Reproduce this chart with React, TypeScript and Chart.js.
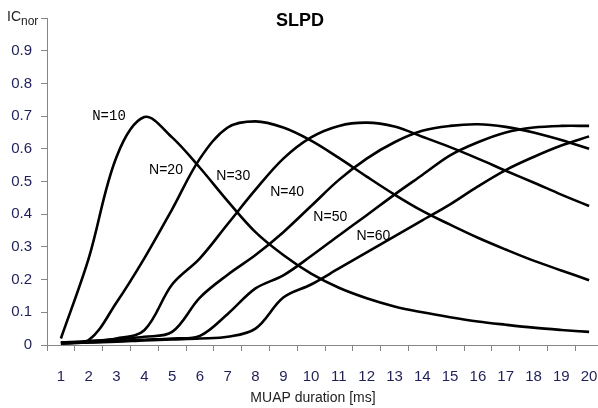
import React, { useEffect, useRef } from 'react';
import { Chart, registerables } from 'chart.js';

Chart.register(...registerables);

const categories = ['1', '2', '3', '4', '5', '6', '7', '8', '9', '10', '11', '12', '13', '14', '15', '16', '17', '18', '19', '20'];

const n10 = [0.02, 0.265, 0.575, 0.697, 0.635, 0.542, 0.44, 0.345, 0.275, 0.218, 0.175, 0.143, 0.118, 0.1, 0.085, 0.072, 0.062, 0.053, 0.046, 0.04];
const n20 = [0.008, 0.015, 0.13, 0.265, 0.415, 0.57, 0.665, 0.684, 0.665, 0.625, 0.572, 0.515, 0.46, 0.41, 0.368, 0.328, 0.292, 0.258, 0.228, 0.198];
const n30 = [0.008, 0.012, 0.02, 0.045, 0.185, 0.265, 0.37, 0.475, 0.57, 0.635, 0.67, 0.68, 0.668, 0.637, 0.605, 0.57, 0.533, 0.497, 0.46, 0.425];
const n40 = [0.005, 0.01, 0.018, 0.025, 0.04, 0.145, 0.215, 0.275, 0.345, 0.425, 0.505, 0.57, 0.62, 0.655, 0.67, 0.675, 0.667, 0.65, 0.627, 0.6];
const n50 = [0.005, 0.008, 0.012, 0.016, 0.02, 0.028, 0.095, 0.173, 0.213, 0.272, 0.335, 0.397, 0.46, 0.52, 0.58, 0.62, 0.65, 0.665, 0.67, 0.67];
const n60 = [0.005, 0.008, 0.01, 0.014, 0.017, 0.02, 0.025, 0.05, 0.145, 0.185, 0.234, 0.283, 0.332, 0.381, 0.43, 0.485, 0.535, 0.575, 0.61, 0.638];

const seriesNames = ['N=10', 'N=20', 'N=30', 'N=40', 'N=50', 'N=60'];
const seriesValues = [n10, n20, n30, n40, n50, n60];
// label anchor (category index, value) for the in-chart series labels
const labelIndex = [1.73, 3.78, 6.2, 8.14, 9.69, 11.24];
const labelValue = [0.699, 0.535, 0.516, 0.466, 0.39, 0.333];

const chartTitle = 'SLPD';
const xTitle = 'MUAP duration [ms]';
const yTitleMain = 'IC';
const yTitleSub = 'nor';

const axisColor = '#868686';
const tickColor = '#1f1f5a';

const textPlugin = {
  id: 'textPlugin',
  afterDraw(chart: any) {
    const ctx = chart.ctx;
    const xs = chart.scales.x;
    const ys = chart.scales.y;
    ctx.save();
    ctx.fillStyle = '#000';
    ctx.textAlign = 'center';
    ctx.textBaseline = 'middle';
    // title
    ctx.font = 'bold 18px "Liberation Sans", Arial, sans-serif';
    ctx.fillText(chartTitle, 300, 21);
    // x axis title
    ctx.fillStyle = '#222';
    ctx.font = '14px "Liberation Sans", Arial, sans-serif';
    ctx.fillText(xTitle, 313, 398);
    // y axis title
    ctx.textAlign = 'left';
    ctx.textBaseline = 'alphabetic';
    ctx.font = '14px "Liberation Sans", Arial, sans-serif';
    ctx.fillText(yTitleMain, 7, 21);
    const w = ctx.measureText(yTitleMain).width;
    ctx.font = '12px "Liberation Sans", Arial, sans-serif';
    ctx.fillText(yTitleSub, 7 + w, 25);
    // series labels
    ctx.fillStyle = '#000';
    ctx.textAlign = 'center';
    ctx.textBaseline = 'middle';
    seriesNames.forEach((name, i) => {
      ctx.font = i === 0
        ? '14px "Liberation Mono", "Courier New", monospace'
        : '14px "Liberation Sans", Arial, sans-serif';
      ctx.fillText(name, xs.getPixelForValue(labelIndex[i]), ys.getPixelForValue(labelValue[i]));
    });
    ctx.restore();
  },
};

export default function App() {
  const ref = useRef<HTMLCanvasElement | null>(null);

  useEffect(() => {
    if (!ref.current) return;
    const chart = new Chart(ref.current, {
      type: 'line',
      data: {
        labels: categories,
        datasets: seriesValues.map((vals, i) => ({
          label: seriesNames[i],
          data: vals,
          borderColor: '#000',
          borderWidth: 2.6,
          pointRadius: 0,
          tension: 0.35,
          fill: false,
        })),
      },
      options: {
        responsive: false,
        animation: false,
        devicePixelRatio: 1,
        layout: { padding: { top: 12, right: 0, left: 0, bottom: 0 } },
        plugins: { legend: { display: false }, tooltip: { enabled: false }, title: { display: false } },
        scales: {
          x: {
            type: 'category',
            offset: true,
            grid: { offset: true, drawOnChartArea: false, tickLength: 6, color: axisColor, lineWidth: 1 },
            border: { color: axisColor, width: 1 },
            ticks: {
              padding: 17,
              color: tickColor,
              maxRotation: 0,
              autoSkip: false,
              font: { family: '"Liberation Sans", Arial, sans-serif', size: 15 },
            },
            afterFit(s: any) { s.height = 63; s.paddingLeft = 0; s.paddingRight = 0; },
          },
          y: {
            min: 0,
            max: 1,
            grid: { drawOnChartArea: false, tickLength: 6, color: axisColor, lineWidth: 1 },
            border: { color: axisColor, width: 1 },
            ticks: {
              stepSize: 0.1,
              padding: 9,
              color: tickColor,
              font: { family: '"Liberation Sans", Arial, sans-serif', size: 15 },
              callback: (v: any) => {
                const r = Math.round(Number(v) * 10) / 10;
                if (r >= 1) return '';
                return r === 0 ? '0' : r.toFixed(1);
              },
            },
            afterFit(s: any) { s.width = 47; },
          },
        },
      },
      plugins: [textPlugin],
    });
    return () => chart.destroy();
  }, []);

  return (
    <div style={{ position: 'fixed', left: 0, top: 0, width: 598, height: 408, overflow: 'hidden', background: '#fff' }}>
      <canvas ref={ref} width={603} height={408} style={{ display: 'block' }} />
    </div>
  );
}
